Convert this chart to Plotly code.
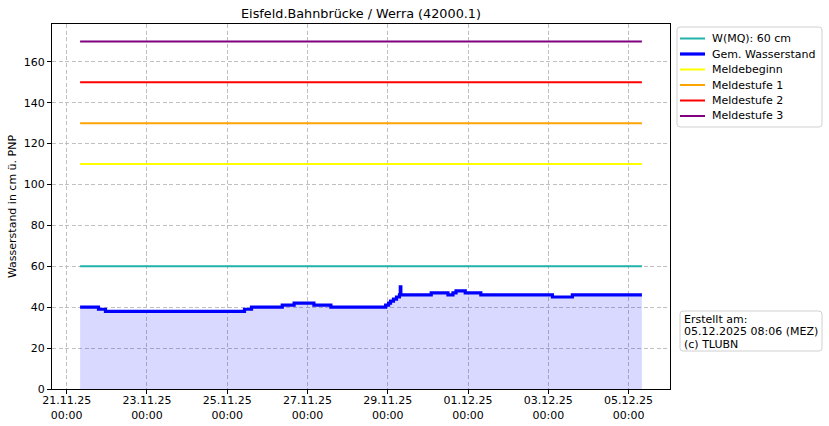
import plotly.graph_objects as go

# ---- data ----
title_text = "Eisfeld.Bahnbrücke / Werra (42000.1)"
level_times = [
    "2025-11-21 08:00", "2025-11-21 19:00", "2025-11-21 23:10", "2025-11-25 10:20",
    "2025-11-25 14:30", "2025-11-26 08:55", "2025-11-26 16:00", "2025-11-27 03:50",
    "2025-11-27 14:00", "2025-11-28 22:45", "2025-11-29 00:30", "2025-11-29 01:40",
    "2025-11-29 03:25", "2025-11-29 05:15", "2025-11-29 07:00", "2025-11-29 07:30",
    "2025-11-29 07:50", "2025-11-30 02:00", "2025-11-30 12:00", "2025-11-30 15:00",
    "2025-11-30 16:50", "2025-11-30 22:20", "2025-12-01 07:40", "2025-12-03 02:30",
    "2025-12-03 14:25", "2025-12-05 08:00",
]
level_values = [40, 39, 38, 39, 40, 41, 42, 41, 40, 41, 42, 43, 44, 45, 46, 50,
                46, 47, 46, 47, 48, 47, 46, 45, 46, 46]
level_name = "Gem. Wasserstand"

start_time = "2025-11-21 08:00"
end_time = "2025-12-05 08:00"

thresholds_names = ["W(MQ): 60 cm", "Meldebeginn", "Meldestufe 1", "Meldestufe 2", "Meldestufe 3"]
thresholds_values = [60, 110, 130, 150, 170]
thresholds_colors = ["#20b2aa", "#ffff00", "#ffa500", "#ff0000", "#800080"]

tick_dates = ["2025-11-21", "2025-11-23", "2025-11-25", "2025-11-27",
              "2025-11-29", "2025-12-01", "2025-12-03", "2025-12-05"]
tick_labels = ["21.11.25<br>00:00", "23.11.25<br>00:00", "25.11.25<br>00:00", "27.11.25<br>00:00",
               "29.11.25<br>00:00", "01.12.25<br>00:00", "03.12.25<br>00:00", "05.12.25<br>00:00"]
y_ticks = [0, 20, 40, 60, 80, 100, 120, 140, 160]
created_lines = ["Erstellt am:", "05.12.2025 08:06 (MEZ)", "(c) TLUBN"]

FONT = "DejaVu Sans"
LEVEL_COLOR = "#0000ff"

# plot-area geometry (pixels)
W, H = 829, 426
L, R, T, B = 52, 670, 24, 389
PW, PH = R - L, B - T


def px(p):
    return (p - L) / PW


def py(p):
    return (B - p) / PH


def rounded_box(x0, y0, x1, y1, r=3):
    a, b = px(x0), px(x1)
    top, bot = py(y0), py(y1)
    rx, ry = r / PW, r / PH
    return (f"M {a+rx},{top} L {b-rx},{top} Q {b},{top} {b},{top-ry} "
            f"L {b},{bot+ry} Q {b},{bot} {b-rx},{bot} L {a+rx},{bot} "
            f"Q {a},{bot} {a},{bot+ry} L {a},{top-ry} Q {a},{top} {a+rx},{top} Z")


fig = go.Figure()

fig.add_trace(go.Scatter(
    x=level_times, y=level_values, mode="lines", line_shape="hv",
    line=dict(color=LEVEL_COLOR, width=3.2), fill="tozeroy",
    fillcolor="rgba(0,0,255,0.15)", name=level_name, showlegend=False))

for name, val, col in zip(thresholds_names, thresholds_values, thresholds_colors):
    fig.add_trace(go.Scatter(
        x=[start_time, end_time], y=[val, val], mode="lines",
        line=dict(color=col, width=2), name=name, showlegend=False))

fig.update_layout(
    width=W, height=H,
    margin=dict(l=L, r=W - R, t=T, b=H - B, autoexpand=False),
    paper_bgcolor="white", plot_bgcolor="white",
    font=dict(family=FONT, size=11, color="black"),
    title=dict(text=title_text, x=(L + R) / 2 / W, xanchor="center",
               y=1 - 14 / H, yanchor="middle", font=dict(size=12.8)),
    showlegend=False,
)

fig.update_xaxes(
    type="date", range=["2025-11-20 15:12", "2025-12-06 00:48"],
    tickvals=tick_dates, ticktext=tick_labels, automargin=False,
    showgrid=True, gridcolor="#c0c0c0", griddash="4px,2.5px", gridwidth=1,
    showline=True, mirror=True, linecolor="black", linewidth=1,
    ticks="outside", ticklen=4, tickcolor="black", tickfont=dict(size=11),
    ticklabelstandoff=-3,
    zeroline=False,
)
fig.update_yaxes(
    range=[0, 178.5], tickvals=y_ticks, automargin=False,
    showgrid=True, gridcolor="#c0c0c0", griddash="4px,2.5px", gridwidth=1,
    showline=True, mirror=True, linecolor="black", linewidth=1,
    ticks="outside", ticklen=4, tickcolor="black", tickfont=dict(size=11),
    zeroline=False,
    title=dict(text="Wasserstand in cm ü. PNP", font=dict(size=11), standoff=4),
)

# ---- custom legend (matplotlib-like compact spacing) ----
legend_names = [thresholds_names[0], level_name] + thresholds_names[1:]
legend_colors = [thresholds_colors[0], LEVEL_COLOR] + thresholds_colors[1:]
legend_widths = [2, 3.2, 2, 2, 2, 2]

fig.add_shape(type="path", xref="paper", yref="paper",
              path=rounded_box(677, 27, 822, 127),
              fillcolor="white", line=dict(color="#d0d0d0", width=1), layer="above")
row0, row_step = 38.5, 15.5
for i, (nm, col, lw) in enumerate(zip(legend_names, legend_colors, legend_widths)):
    yy = py(row0 + i * row_step)
    fig.add_shape(type="line", xref="paper", yref="paper",
                  x0=px(680), x1=px(705), y0=yy, y1=yy,
                  line=dict(color=col, width=lw), layer="above")
    fig.add_annotation(text=nm, xref="paper", yref="paper", x=px(711), y=yy,
                       xanchor="left", yanchor="middle", showarrow=False,
                       font=dict(size=11), borderpad=0)

# ---- info box ----
fig.add_shape(type="path", xref="paper", yref="paper",
              path=rounded_box(680, 311, 822, 351),
              fillcolor="white", line=dict(color="#d0d0d0", width=1), layer="above")
for i, txt in enumerate(created_lines):
    fig.add_annotation(text=txt, xref="paper", yref="paper", x=px(683), y=py(319 + i * 12.5),
                       xanchor="left", yanchor="middle", showarrow=False,
                       font=dict(size=11), borderpad=0)

fig.write_html("out.html", config={"displayModeBar": False},
               post_script="document.body.style.margin='0';")
